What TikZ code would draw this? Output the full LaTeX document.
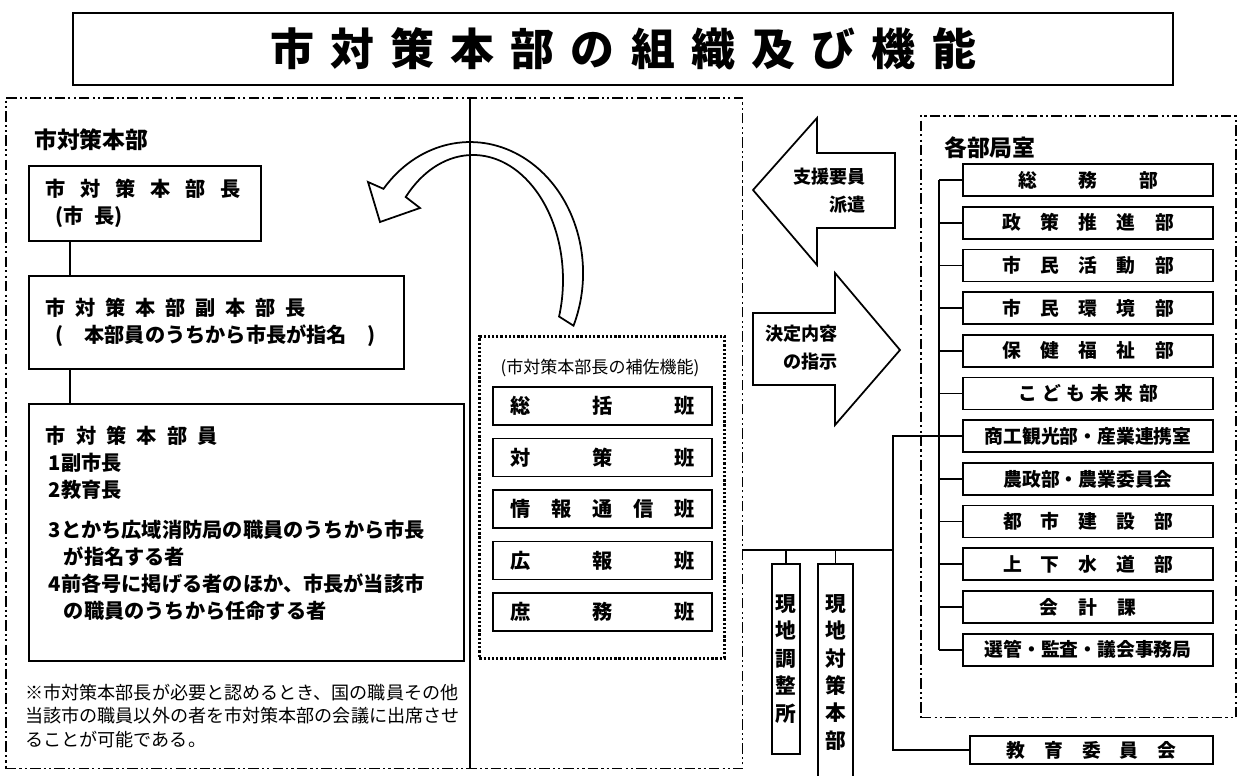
\documentclass[tikz,border=0pt]{standalone}
\usepackage{fontspec}
\setmainfont{Noto Sans CJK JP}

\newcommand{\spread}[2]{\makebox[#1][s]{#2}}

\begin{document}
\begin{tikzpicture}[x=0.02cm, y=-0.02cm,
    box/.style={draw, line width=1pt, inner sep=0pt, font=\fontsize{11.5}{15.3}\selectfont\bfseries},
    grp/.style={draw, line width=0.9pt, inner sep=0pt,
      dash pattern=on 6pt off 1.8pt on 1.2pt off 1.8pt on 1.2pt off 1.8pt},
    dotgrp/.style={draw, line width=1.5pt, inner sep=0pt, dash pattern=on 1.3pt off 1.1pt},
    link/.style={line width=1pt},
    han/.style={box, minimum width=4.38cm, minimum height=0.76cm},
    bu/.style={box, minimum width=5cm, minimum height=0.64cm, font=\fontsize{10.7}{13}\selectfont\bfseries},
    genchi/.style={box, anchor=north, align=center, font=\fontsize{11.8}{15.6}\selectfont\bfseries},
    bigarrow/.style={draw, line width=1pt, line join=miter}]

  \useasboundingbox (0,0) rectangle (1239,776);

  \node[draw, line width=1.1pt, minimum width=22cm, minimum height=1.44cm] (title) at (623,49)
    {\fontsize{25}{25}\selectfont\bfseries\spread{14.12cm}{市\hfill 対\hfill 策\hfill 本\hfill 部\hfill の\hfill 組\hfill 織\hfill 及\hfill び\hfill 機\hfill 能}};

  \node[grp, anchor=north west, minimum width=14.74cm, minimum height=13.42cm] (honbu) at (5,97) {};
  \node[anchor=west, font=\fontsize{13}{13}\selectfont\bfseries] (honbulbl) at (28,140) {市対策本部};

  \node[box, anchor=north west, minimum width=4.64cm, minimum height=1.5cm,
    text width=3.96cm, inner xsep=0.34cm, align=left] (chou) at (28,165)
    {\spread{3.9cm}{市\hfill 対\hfill 策\hfill 本\hfill 部\hfill 長}\\\hspace*{0.2cm}(市\hspace{0.5em}長)};
  \node[box, anchor=north west, minimum width=7.5cm, minimum height=1.86cm,
    text width=6.82cm, inner xsep=0.34cm, align=left] (fuku) at (28,275)
    {\spread{5.2cm}{市\hfill 対\hfill 策\hfill 本\hfill 部\hfill 副\hfill 本\hfill 部\hfill 長}\\
     \hspace*{0.2cm}\spread{6.4cm}{(\hfill 本部員のうちから市長が指名\hfill )}};
  \node[box, anchor=north west, minimum width=8.7cm, minimum height=5.14cm,
    text width=8.02cm, inner xsep=0.34cm, align=left] (honbuin) at (28,403)
    {\spread{3.44cm}{市\hfill 対\hfill 策\hfill 本\hfill 部\hfill 員}\\
     \hspace*{0.06cm}1副市長\\
     \hspace*{0.06cm}2教育長\\[0.26cm]
     \hspace*{0.06cm}3とかち広域消防局の職員のうちから市長\\
     \hspace*{0.36cm}が指名する者\\
     \hspace*{0.06cm}4前各号に掲げる者のほか、市長が当該市\\
     \hspace*{0.36cm}の職員のうちから任命する者\rule[-0.4cm]{0pt}{0.1pt}};

  \coordinate (spine) at (70,240);
  \draw[link] (spine |- chou.south) -- (spine |- fuku.north);
  \draw[link] (spine |- fuku.south) -- (spine |- honbuin.north);

  \node[anchor=west, align=left, inner sep=0pt, font=\fontsize{10.3}{13.6}\selectfont] (note) at (25,716)
    {※市対策本部長が必要と認めるとき、国の職員その他\\当該市の職員以外の者を市対策本部の会議に出席させ\\ることが可能である。};

  \coordinate (divider) at (470,97);
  \draw[link] (divider) -- (divider |- honbu.south);

  \draw[bigarrow] (573.5,325.7) arc[start angle=23.7, end angle=-140, x radius=113, y radius=131]
    -- (368,182) -- (380,222) -- (420,208) -- (405.7,197)
    arc[start angle=-138.4, end angle=17, x radius=90, y radius=125] -- cycle;

  \node[dotgrp, anchor=north west, minimum width=4.9cm, minimum height=6.44cm] (hosa) at (478,335) {};
  \node[font=\fontsize{9.7}{12}\selectfont] (hosalbl) at (600,368) {(市対策本部長の補佐機能)};

  \foreach \t [count=\i from 0] in {{総\hfill 括\hfill 班}, {対\hfill 策\hfill 班},
      {情\hfill 報\hfill 通\hfill 信\hfill 班}, {広\hfill 報\hfill 班}, {庶\hfill 務\hfill 班}} {
    \node[han] (han\i) at (602.5, 406+51.5*\i) {\spread{3.68cm}{\t}};
  }

  \draw[bigarrow] (753,190) -- (817,118) -- (817,153) -- (895,153) -- (895,228) -- (817,228) -- (817,265) -- cycle;
  \node[anchor=east, align=right, font=\fontsize{10.3}{15.9}\selectfont\bfseries] (shien) at (872,191) {支援要員\\派遣};

  \draw[bigarrow] (900,350) -- (835,273) -- (835,313) -- (753,313) -- (753,385) -- (835,385) -- (835,425) -- cycle;
  \node[anchor=east, align=right, font=\fontsize{10.3}{15.9}\selectfont\bfseries] (shiji) at (844,348) {決定内容\\の指示};

  \node[grp, anchor=north west, minimum width=6.3cm, minimum height=12.04cm] (kakubu) at (920,115) {};
  \node[anchor=west, font=\fontsize{13}{13}\selectfont\bfseries] (kakubulbl) at (938,148) {各部局室};

  \foreach \w/\t [count=\i] in {2.8cm/{総\hfill 務\hfill 部}, 3.44cm/{政\hfill 策\hfill 推\hfill 進\hfill 部},
      3.44cm/{市\hfill 民\hfill 活\hfill 動\hfill 部}, 3.44cm/{市\hfill 民\hfill 環\hfill 境\hfill 部},
      3.44cm/{保\hfill 健\hfill 福\hfill 祉\hfill 部}, 2.8cm/{こ\hfill ど\hfill も\hfill 未\hfill 来\hfill 部},
      4.2cm/{\hfill 商工観光部・産業連携室\hfill}, 3.44cm/{\hfill 農政部・農業委員会\hfill},
      3.4cm/{都\hfill 市\hfill 建\hfill 設\hfill 部}, 3.4cm/{上\hfill 下\hfill 水\hfill 道\hfill 部},
      1.94cm/{会\hfill 計\hfill 課}, 4.2cm/{\hfill 選管・監査・議会事務局\hfill}} {
    \node[bu] (bu\i) at (1088, 137.3+42.7*\i) {\spread{\w}{\t}};
  }
  \node[bu, minimum width=4.86cm, minimum height=0.56cm] (kyoiku) at (1091.5,750)
    {\spread{3.4cm}{教\hfill 育\hfill 委\hfill 員\hfill 会}};

  \coordinate (bus) at (939,180);
  \draw[link] (bus |- bu1.west) -- (bus |- bu12.west);
  \foreach \i in {1,...,12} \draw[link] (bus |- bu\i.west) -- (bu\i.west);

  \coordinate (trunk) at (893,550);
  \draw[link] (honbu.east |- trunk) -- (trunk);
  \draw[link] (bu7.west) -- (trunk |- bu7.west) -- (trunk |- kyoiku.west) -- (kyoiku.west);

  \node[genchi, minimum width=0.56cm, minimum height=3.8cm] (genchi1) at (786,563) {現\\地\\調\\整\\所};
  \node[genchi, minimum width=0.7cm, minimum height=4.34cm] (genchi2) at (835.5,563) {現\\地\\対\\策\\本\\部};
  \draw[link] (genchi1.north) -- (genchi1.north |- trunk);
  \draw[link] (genchi2.north) -- (genchi2.north |- trunk);

\end{tikzpicture}
\end{document}
